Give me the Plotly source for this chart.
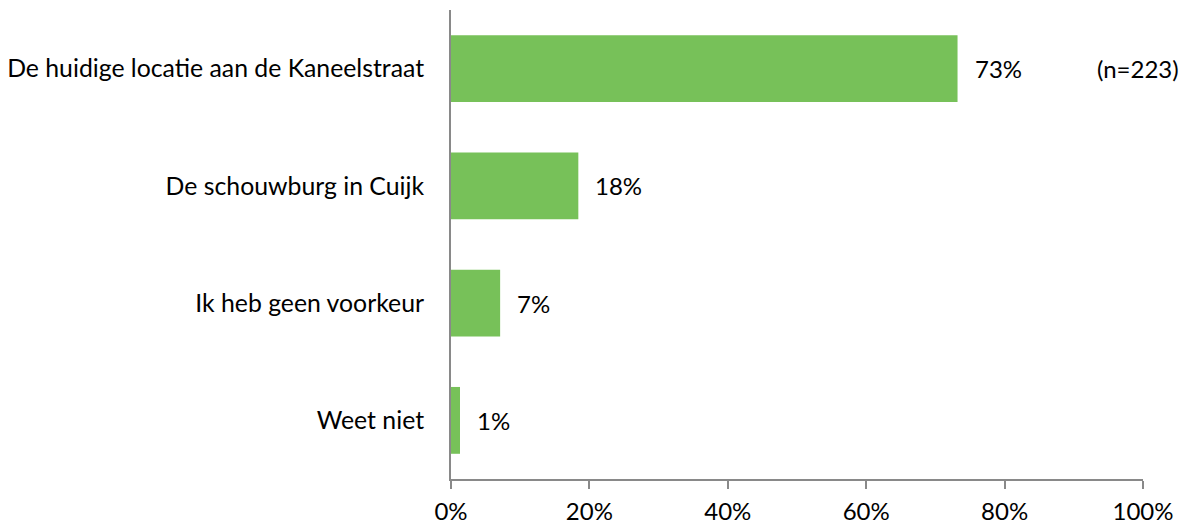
import plotly.graph_objects as go

categories = ["De huidige locatie aan de Kaneelstraat", "De schouwburg in Cuijk",
              "Ik heb geen voorkeur", "Weet niet"]
values = [73.2, 18.4, 7.1, 1.3]
labels = ["73%", "18%", "7%", "1%"]
tick_vals = [0, 20, 40, 60, 80, 100]
tick_text = ["0%", "20%", "40%", "60%", "80%", "100%"]
note = "(n=223)"

FONT = "Lato"
FS = 24
fig = go.Figure(go.Bar(
    y=categories, x=values, orientation="h",
    marker=dict(color="#77C159", line=dict(width=0)),
    hoverinfo="skip"))

for c, v, t in zip(categories, values, labels):
    fig.add_annotation(x=v, y=c, text=t, showarrow=False, xanchor="left",
                       xshift=15, font=dict(size=FS, color="#000", family=FONT))
fig.add_annotation(x=99.3, y=categories[0], text=note, showarrow=False,
                   xanchor="center", font=dict(size=FS, color="#000", family=FONT))

fig.update_layout(
    width=1189, height=527,
    margin=dict(l=443, r=54, t=2, b=56),
    paper_bgcolor="white", plot_bgcolor="white",
    bargap=0.43, showlegend=False,
    font=dict(family=FONT, size=FS, color="#000"),
    xaxis=dict(range=[0, 100], tickvals=tick_vals, ticktext=tick_text,
               showgrid=False, zeroline=False, showline=True, linecolor="#898989",
               linewidth=2, ticks="outside", ticklen=8, tickcolor="#898989", tickwidth=2,
               ticklabelstandoff=2, automargin=False,
               tickfont=dict(size=FS, family=FONT, color="#000")),
    yaxis=dict(categoryorder="array", categoryarray=categories[::-1],
               range=[-0.5, 3.5], showgrid=False, zeroline=False, showline=True,
               linecolor="#898989", linewidth=2, ticks="", ticklabelstandoff=20,
               automargin=False,
               tickfont=dict(size=24.8, family=FONT, color="#000")),
)
fig.write_html("out.html")
